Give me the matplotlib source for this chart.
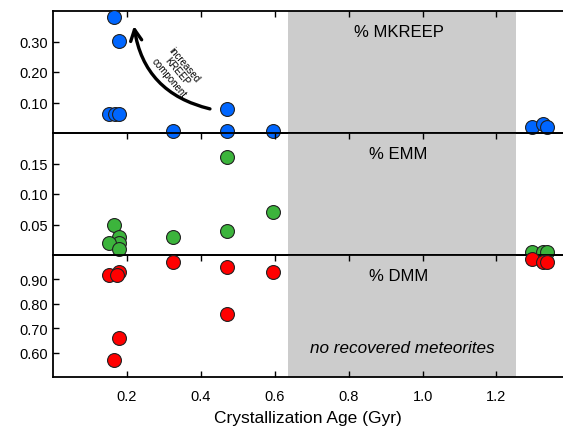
import numpy as np
import matplotlib.pyplot as plt

plt.rcParams['font.family'] = ['Liberation Sans', 'DejaVu Sans']

# crystallization ages (Gyr) and mixing fractions
age = [0.165, 0.178, 0.151, 0.168, 0.178, 0.326, 0.472, 0.472, 0.595, 1.295, 1.325, 1.338]
mkreep = [0.38, 0.303, 0.061, 0.061, 0.061, 0.008, 0.08, 0.008, 0.005, 0.02, 0.028, 0.021]

age_emm = [0.472, 0.595, 0.472, 0.326, 0.165, 0.178, 0.178, 0.151, 0.178, 1.295, 1.325, 1.338]
emm = [0.16, 0.07, 0.04, 0.03, 0.05, 0.03, 0.02, 0.02, 0.01, 0.005, 0.005, 0.005]

age_dmm = [0.151, 0.178, 0.173, 0.326, 0.472, 0.595, 0.472, 0.178, 0.165, 1.295, 1.325, 1.338]
dmm = [0.92, 0.93, 0.92, 0.97, 0.95, 0.93, 0.76, 0.66, 0.57, 0.984, 0.97, 0.97]

gap = (0.635, 1.254)  # no recovered meteorites
xticks = [0.2, 0.4, 0.6, 0.8, 1.0, 1.2]

fig = plt.figure(figsize=(5.63, 4.31), dpi=100)
left, right, top, bottom = 53/563, 1.0, 1 - 12/431, 1 - 378/431
h = (top - bottom) / 3

panels = [
    (age, mkreep, '#0066ff', (0, 0.4), [0.1, 0.2, 0.3], '% MKREEP'),
    (age_emm, emm, '#3cb43c', (0, 0.2), [0.05, 0.10, 0.15], '% EMM'),
    (age_dmm, dmm, '#ff0000', (0.5, 1.0), [0.6, 0.7, 0.8, 0.9], '% DMM'),
]

axes = []
for i, (x, y, c, ylim, yt, lab) in enumerate(panels):
    ax = fig.add_axes([left, top - (i + 1) * h, right - left, h])
    ax.patch.set_visible(False)
    ax.axvspan(gap[0], gap[1], color='#cccccc', lw=0, zorder=0)
    ax.plot(x, y, 'o', ms=10, mfc=c, mec='#222222', mew=0.8,
            clip_on=False, zorder=3)
    ax.set_xlim(0, 1.38)
    ax.set_ylim(*ylim)
    ax.set_yticks(yt)
    ax.set_yticklabels(['%.2f' % v for v in yt])
    ax.set_xticks(xticks)
    ax.spines['right'].set_visible(False)
    for s in ['left', 'top', 'bottom']:
        ax.spines[s].set_linewidth(1.3)
    ax.tick_params(direction='in', length=4, width=1, labelsize=10.5,
                   top=True, bottom=(i == 2), labelbottom=(i == 2))
    ax.tick_params(axis='x', pad=9)
    ax.text(0.935, ylim[1] - 0.165 * (ylim[1] - ylim[0]), lab,
            ha='center', va='center', fontsize=12)
    axes.append(ax)

axes[2].set_xticklabels(['%.1f' % v for v in xticks])
axes[2].set_xlabel('Crystallization Age (Gyr)', fontsize=12.5, labelpad=5)
axes[2].text(0.945, 0.622, 'no recovered meteorites', style='italic',
             ha='center', va='center', fontsize=12.3)

ax = axes[0]
ax.annotate('', xy=(0.218, 0.36), xytext=(0.432, 0.077),
            arrowprops=dict(arrowstyle='->,head_length=0.8,head_width=0.4',
                            lw=2.4, color='black',
                            connectionstyle='arc3,rad=-0.35'))
ax.text(0.335, 0.205, 'increased\nKREEP\ncomponent', rotation=-50,
        ha='center', va='center', fontsize=7, linespacing=1.0)

fig.savefig('out.png', dpi=100)
